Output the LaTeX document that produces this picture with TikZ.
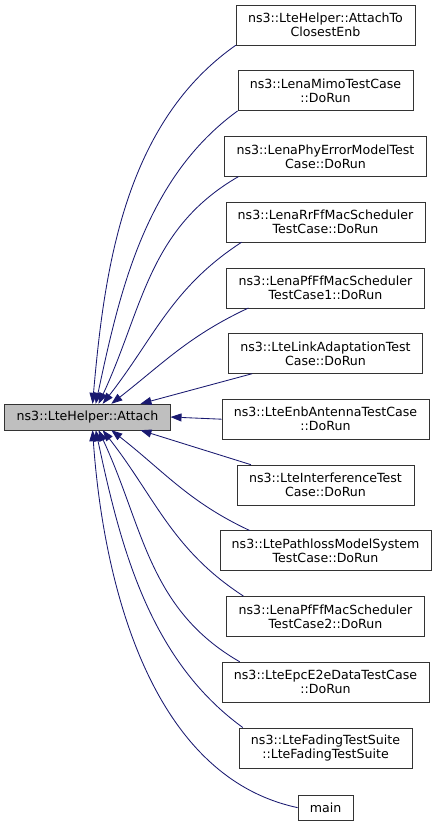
\documentclass[tikz,border=0pt]{standalone}
\usepackage{fontspec}
\setmainfont{DejaVu Sans}
\usetikzlibrary{arrows.meta, positioning}
\definecolor{arrowblue}{RGB}{25,25,112}
\tikzset{
  fn/.style={draw=black!80, fill=white, inner xsep=12pt, align=center, minimum height=40pt,
    font=\fontsize{12.6}{14}\selectfont},
  cur/.style={fn, fill=black!25, minimum height=26pt},
  edge/.style={-{Triangle[length=11pt, width=8pt]}, draw=arrowblue, line width=0.85pt},
}
\begin{document}
\begin{tikzpicture}[x=1pt, y=1pt, node distance=25.3pt]
    \useasboundingbox (0,0) rectangle (437,-821);
    \node[cur] (attach) at (87.5,-417) {ns3::LteHelper::Attach};
    \node[fn] (closest) at (325.5,-25) {ns3::LteHelper::AttachTo\\ClosestEnb};
    \node[fn, below=of closest] (mimo) {ns3::LenaMimoTestCase\\::DoRun};
    \node[fn, below=of mimo] (phyerr) {ns3::LenaPhyErrorModelTest\\Case::DoRun};
    \node[fn, below=of phyerr] (rrff) {ns3::LenaRrFfMacScheduler\\TestCase::DoRun};
    \node[fn, below=of rrff] (pfff1) {ns3::LenaPfFfMacScheduler\\TestCase1::DoRun};
    \node[fn, below=of pfff1] (linkad) {ns3::LteLinkAdaptationTest\\Case::DoRun};
    \node[fn, below=of linkad] (antenna) {ns3::LteEnbAntennaTestCase\\::DoRun};
    \node[fn, below=of antenna] (interf) {ns3::LteInterferenceTest\\Case::DoRun};
    \node[fn, below=of interf] (pathloss) {ns3::LtePathlossModelSystem\\TestCase::DoRun};
    \node[fn, below=of pathloss] (pfff2) {ns3::LenaPfFfMacScheduler\\TestCase2::DoRun};
    \node[fn, below=of pfff2] (epc) {ns3::LteEpcE2eDataTestCase\\::DoRun};
    \node[fn, below=of epc] (fading) {ns3::LteFadingTestSuite\\::LteFadingTestSuite};
    \node[fn, minimum height=25pt, below=27pt of fading] (mainfn) {main};
    % callers above
    \draw[edge] (closest.south west) to[out=215, in=85, looseness=0.9] (attach.69);
    \draw[edge] (mimo.south west) to[out=216, in=78, looseness=0.9] (attach.58);
    \draw[edge] ([xshift=14pt]phyerr.south west) to[out=210, in=65] (attach.50);
    \draw[edge] ([xshift=16pt]rrff.south west) to[out=213, in=52] (attach.41);
    \draw[edge] ([xshift=22pt]pfff1.south west) to[out=205, in=38] (attach.29);
    \draw[edge] ([xshift=24pt]linkad.south west) -- (attach.14);
    \draw[edge] (antenna.west) -- (attach.east);
    % callers below
    \draw[edge] ([xshift=14pt]interf.north west) -- (attach.-14);
    \draw[edge] ([xshift=30pt]pathloss.north west) to[out=155, in=-38] (attach.-29);
    \draw[edge] ([xshift=17pt]pfff2.north west) to[out=147, in=-52] (attach.-41);
    \draw[edge] ([xshift=18pt]epc.north west) to[out=150, in=-65] (attach.-50);
    \draw[edge] ([xshift=4pt]fading.north west) to[out=144, in=-78, looseness=0.9] (attach.-58);
    \draw[edge] (mainfn.west) to[out=168, in=-86, looseness=0.9] (attach.-69);
\end{tikzpicture}
\end{document}
